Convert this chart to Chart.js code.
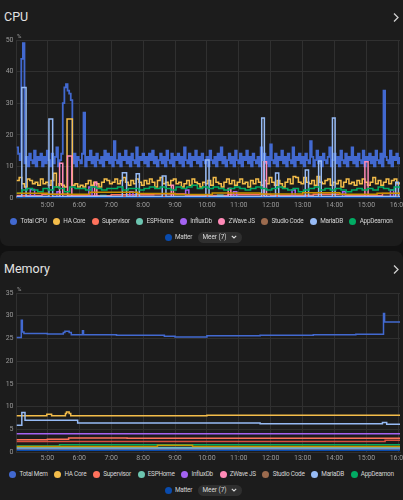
<!DOCTYPE html>
<html>
<head>
<meta charset="utf-8">
<script src="https://cdn.jsdelivr.net/npm/chart.js@4.4.1/dist/chart.umd.min.js"></script>
<style>
html, body { margin: 0; padding: 0; background: #111111; width: 403px; height: 500px; overflow: hidden; font-family: Roboto, sans-serif; }
.card { position: absolute; left: 0; width: 403px; background: #1c1c1c; border-radius: 8px; }
.title { position: absolute; left: 4px; color: #e3e3e3; font-size: 12.5px; line-height: 1; }
.chev { position: absolute; left: 390px; }
canvas { position: absolute; left: 0; }
.legend { position: absolute; left: 0; width: 403px; }
.legend .row { width: 100%; display: flex; justify-content: center; height: 16px; align-items: center; }
.item { display: flex; align-items: center; margin: 0 3.3px; color: #d4d4d4; font-size: 6.4px; letter-spacing: -0.25px; white-space: nowrap; }
.dot { width: 7px; height: 7px; border-radius: 50%; margin-right: 3.2px; }
.pill { display: flex; align-items: center; height: 11px; padding: 0 5px 0 4px; border-radius: 6px; background: #2f2f2f; color: #dcdcdc; font-size: 6.4px; margin-left: 3px; }
.pill svg { margin-left: 4px; }
</style>
</head>
<body>
<div class="card" style="top:-10px;height:256px"></div>
<div class="card" style="top:251px;height:260px"></div>
<div class="title" style="top:11px">CPU</div>
<div class="title" style="top:263px">Memory</div>
<svg class="chev" style="top:12px" width="10" height="11"><path d="M4 1.5 L8 5.5 L4 9.5" stroke="#cfcfcf" stroke-width="1.3" fill="none"/></svg>
<svg class="chev" style="top:264px" width="10" height="11"><path d="M4 1.5 L8 5.5 L4 9.5" stroke="#cfcfcf" stroke-width="1.3" fill="none"/></svg>
<canvas id="cpuChart" width="403" height="185" style="top:30px"></canvas>
<canvas id="memChart" width="403" height="182" style="top:283px"></canvas>
<div class="legend" id="cpuLegend" style="top:213px"></div>
<div class="legend" id="memLegend" style="top:466px"></div>
<script>
// ------ time range, minutes since midnight ------
var tStart = 242
var tEnd = 963
var hourTicks = [300, 360, 420, 480, 540, 600, 660, 720, 780, 840, 900, 960]

var colors = ['#4269d0', '#f4bd4a', '#ff725c', '#6cc5b0', '#a463f2', '#ff8ab7', '#9c6b4e', '#97bbf5', '#01ab63', '#094bad',
	'#c99000', '#d84f3e', '#49a28f', '#7599d1']

var cpuNames = ['Total CPU', 'HA Core', 'Supervisor', 'ESPHome', 'InfluxDb', 'ZWave JS', 'Studio Code', 'MariaDB', 'AppDeamon', 'Matter']
var memNames = ['Total Mem', 'HA Core', 'Supervisor', 'ESPHome', 'InfluxDb', 'ZWave JS', 'Studio Code', 'MariaDB', 'AppDeamon', 'Matter']
var moreLabel = 'Meer (7)'

// ------ CPU % ------
// Total CPU, every 3 minutes from 4:02
var cpuTotal = [
	16, 14, 12, 44, 49, 11, 13, 10, 14, 12, 11, 15, 10, 13, 12, 14, 10, 13, 11, 15,
	12, 10, 14, 11, 13, 16, 10, 12, 14, 30, 35, 36, 34, 33, 31, 11, 14, 10, 13, 12,
	11, 14, 27, 10, 13, 12, 15, 11, 13, 10, 14, 12, 11, 13, 10, 15, 12, 14, 11, 13,
	10, 18, 12, 11, 14, 10, 13, 12, 15, 11, 13, 10, 14, 12, 11, 16, 10, 13, 12, 14,
	11, 13, 10, 14, 12, 15, 11, 13, 10, 12, 14, 11, 13, 10, 15, 12, 11, 14, 10, 13,
	12, 14, 11, 13, 10, 16, 12, 11, 14, 10, 13, 12, 15, 11, 13, 10, 14, 12, 11, 13,
	10, 15, 12, 11, 13, 10, 14, 12, 16, 11, 13, 10, 12, 14, 11, 13, 10, 15, 12, 11,
	14, 10, 13, 12, 15, 11, 13, 10, 14, 12, 11, 13, 10, 16, 12, 14, 11, 13, 10, 17,
	12, 11, 14, 10, 13, 12, 15, 11, 13, 10, 14, 12, 11, 16, 10, 13, 12, 14, 11, 13,
	10, 14, 12, 11, 18, 13, 10, 12, 15, 11, 13, 10, 14, 12, 11, 13, 16, 10, 12, 14,
	11, 13, 10, 15, 12, 11, 14, 10, 13, 12, 16, 11, 13, 10, 14, 12, 11, 15, 10, 13,
	12, 14, 11, 13, 10, 15, 12, 11, 14, 10, 34, 13, 12, 11, 15, 10, 13, 12, 14, 11,
	13
]
// HA Core, every 5 minutes
var cpuCore = [
	5.5, 6.5, 4.5, 3.5, 6, 5.5, 4.5, 5, 4, 6, 4.5, 5,
	4, 5.5, 7.8, 3.5, 4.5, 4, 3.5, 25, 25, 4, 4.5, 3.5,
	4, 3.5, 4.5, 5.5, 4, 5, 4.5, 3.5, 5, 6, 5.5, 4.5,
	5, 6, 4.5, 5.5, 6.5, 5, 4, 5.5, 4.5, 6, 5, 4,
	5.5, 4.5, 6, 5, 3.5, 5.5, 6.5, 4.5, 5, 4, 5.5, 6,
	4.5, 5, 3.5, 4.5, 5.5, 4, 6, 5, 4.5, 3.5, 5, 4.5,
	5.5, 4, 6.5, 5, 4.5, 3.5, 5, 6, 4.5, 5.5, 4, 5,
	6, 4.5, 5, 3.5, 5.5, 4.5, 6, 5, 4, 5.5, 4.5, 6.5,
	5, 4, 5.5, 4.5, 3.5, 5, 6, 4.5, 6.8, 6.5, 5, 4.5,
	6.5, 5, 4.5, 5.5, 4, 6.8, 5, 4.5, 5.5, 6, 4, 5,
	4.5, 5.5, 3.5, 5, 6, 4.5, 5, 4, 5.5, 4.5, 6, 5,
	4, 5, 6.5, 4.5, 5.5, 4, 5, 6, 4.5, 5.5, 6, 4.5,
	5
]
// AppDeamon, every 10 minutes
var cpuApp = [
	1.5, 2.5, 3, 2.5, 2, 3,
	2.5, 3.5, 3, 2, 3.5, 3,
	3, 2.5, 3.5, 3, 2.5, 3,
	3, 3.5, 2.5, 3, 3, 2.5,
	3, 3.5, 3, 3.5, 3, 2.5,
	3.5, 3, 3.5, 4, 3, 3.5,
	3, 3.5, 3, 2.5, 3, 3.5,
	3, 2.5, 3, 3.5, 3, 2.5,
	3, 3.5, 3, 2.5, 3, 2,
	2.5, 3, 3.5, 2.5, 3, 2.5,
	3, 2.5, 2, 2.5, 3, 2.5,
	3, 2.5, 3.5, 3, 2.5, 3.5,
	3
]
// step series: change times (min) and values
var cpuMariaT = [242, 252, 260, 303, 310, 441, 449, 467, 473, 516, 523, 598, 604, 703, 708, 729, 735, 785, 791, 810, 815, 836, 841, 955, 960, 963]
var cpuMariaV = [0.5, 35, 0.5, 25, 0.5, 8, 0.5, 7.7, 0.5, 7, 0.5, 12, 0.5, 25.3, 0.5, 7.9, 0.5, 8.9, 0.5, 11.7, 0.5, 25.3, 0.5, 5, 0.5, 0.5]
var cpuZwaveT = [242, 323, 329, 338, 346, 389, 393, 533, 537, 640, 645, 707, 712, 897, 903, 963]
var cpuZwaveV = [0.5, 11, 0.5, 13.3, 0.5, 5, 0.5, 4, 0.5, 3, 0.5, 11.5, 0.5, 11.5, 0.5, 0.5]
var cpuInfluxT = [242, 268, 276, 318, 324, 378, 384, 455, 461, 560, 566, 650, 656, 760, 766, 855, 861, 945, 951, 963]
var cpuInfluxV = [0.3, 2.7, 0.3, 2, 0.3, 3.5, 0.3, 2, 0.3, 2.5, 0.3, 2, 0.3, 2.5, 0.3, 2, 0.3, 2.5, 0.3, 0.3]
var cpuSupT = [242, 290, 340, 420, 500, 560, 640, 720, 800, 860, 930, 963]
var cpuSupV = [0.8, 1.2, 0.7, 1, 1.3, 0.8, 1.1, 0.9, 1.2, 0.8, 1.4, 1]
var cpuEspT = [242, 400, 410, 620, 630, 963]
var cpuEspV = [0.3, 0.8, 0.3, 0.9, 0.3, 0.3]
var cpuStudioT = [242, 963]
var cpuStudioV = [0.2, 0.2]
var cpuMatterT = [242, 963]
var cpuMatterV = [0.1, 0.1]
var cpuExtraT = [242, 300, 380, 470, 540, 610, 700, 780, 850, 920, 963]
var cpuExtraV = [1.5, 1.2, 1.8, 1.4, 1.1, 1.6, 1.3, 1.7, 1.2, 1.5, 1.5]

// ------ Memory % ------
var memTotalT = [242, 251, 253, 256, 300, 330, 333, 341, 345, 366, 368, 430, 520, 540, 600, 700, 800, 880, 932, 934, 963]
var memTotalV = [25.2, 29, 26.4, 26.1, 26.0, 26.3, 26.6, 26.3, 25.8, 26.7, 25.8, 25.7, 25.5, 25.3, 25.6, 25.7, 25.8, 25.9, 30.5, 28.6, 28.6]
var memCoreT = [242, 299, 308, 334, 336, 341, 344, 600, 963]
var memCoreV = [8.0, 8.3, 8.0, 8.5, 8.8, 8.5, 8.0, 8.1, 8.2]
var memMariaT = [242, 252, 258, 357, 700, 930, 938, 963]
var memMariaV = [5.9, 8.7, 7.0, 6.4, 6.2, 6.5, 6.1, 6.1]
var memInfluxT = [242, 963]
var memInfluxV = [4.0, 4.0]
var memSupT = [242, 300, 340, 450, 963]
var memSupV = [2.7, 2.8, 3.1, 3.0, 3.1]
var memZwaveT = [242, 935, 963]
var memZwaveV = [2.3, 2.6, 2.6]
var memAppT = [242, 323, 963]
var memAppV = [1.3, 1.6, 1.6]
var memEspT = [242, 963]
var memEspV = [1.0, 1.0]
var memStudioT = [242, 963]
var memStudioV = [0.6, 0.6]
var memMatterT = [242, 963]
var memMatterV = [0.4, 0.4]
var memExtraT = [242, 507, 573, 963]
var memExtraV = [1.2, 1.5, 1.2, 1.2]
var memExtra2T = [242, 963]
var memExtra2V = [0.75, 0.75]

function grid(values, step) {
	return values.map(function (v, i) { return { x: tStart + step * i, y: v } })
}
function steps(times, values) {
	return times.map(function (t, i) { return { x: t, y: values[i] } })
}
function ds(label, data, color, idx, width) {
	return {
		label: label,
		data: data,
		borderColor: color,
		borderWidth: width || 1.5,
		pointRadius: 0,
		stepped: true,
		fill: false,
		order: -idx
	}
}

var gridColor = '#303030'
var tickColor = '#9a9a9a'

// draws the "%" unit above the y axis
var unitPlugin = {
	id: 'unit',
	afterDraw: function (chart) {
		var c = chart.ctx, a = chart.chartArea
		c.save()
		c.font = '6px Roboto'
		c.fillStyle = tickColor
		c.textBaseline = 'middle'
		c.fillText('%', a.left + 0.5, a.top - 4)
		c.restore()
	}
}

function makeOptions(yMax, yStep, xHeight, xPad) {
	return {
		responsive: false,
		animation: false,
		layout: { padding: { top: 10, right: 3, left: 0, bottom: 0 } },
		plugins: { legend: { display: false }, tooltip: { enabled: false } },
		scales: {
			x: {
				type: 'linear',
				min: tStart,
				max: tEnd,
				afterBuildTicks: function (s) { s.ticks = hourTicks.map(function (v) { return { value: v } }) },
				afterFit: function (s) { s.height = xHeight; s.paddingLeft = 0; s.paddingRight = 0 },
				ticks: {
					autoSkip: false, maxRotation: 0, padding: xPad, color: tickColor,
					font: { family: 'Roboto', size: 7 },
					callback: function (v) { return Math.floor(v / 60) + ':00' }
				},
				grid: { color: gridColor, drawTicks: false },
				border: { color: gridColor }
			},
			y: {
				min: 0,
				max: yMax,
				afterFit: function (s) { s.width = 16.5; s.paddingTop = 0; s.paddingBottom = 0 },
				ticks: { stepSize: yStep, padding: 3, color: tickColor, font: { family: 'Roboto', size: 7 } },
				grid: { color: gridColor, drawTicks: false },
				border: { color: gridColor }
			}
		}
	}
}

// ------ CPU chart ------
var cpuSets = [
	ds(cpuNames[0], grid(cpuTotal, 3), colors[0], 0, 1.8),
	ds(cpuNames[1], grid(cpuCore, 5), colors[1], 1),
	ds(cpuNames[2], steps(cpuSupT, cpuSupV), colors[2], 2),
	ds(cpuNames[3], steps(cpuEspT, cpuEspV), colors[3], 3),
	ds(cpuNames[4], steps(cpuInfluxT, cpuInfluxV), colors[4], 4),
	ds(cpuNames[5], steps(cpuZwaveT, cpuZwaveV), colors[5], 5),
	ds(cpuNames[6], steps(cpuStudioT, cpuStudioV), colors[6], 6),
	ds(cpuNames[7], steps(cpuMariaT, cpuMariaV), colors[7], 7),
	ds(cpuNames[8], grid(cpuApp, 10), colors[8], 8),
	ds(cpuNames[9], steps(cpuMatterT, cpuMatterV), colors[9], 9),
	ds('extra', steps(cpuExtraT, cpuExtraV), colors[10], 10)
]
new Chart(document.getElementById('cpuChart'), {
	type: 'line',
	data: { datasets: cpuSets },
	options: makeOptions(50, 10, 17, 3),
	plugins: [unitPlugin]
})

// ------ Memory chart ------
var memSets = [
	ds(memNames[0], steps(memTotalT, memTotalV), colors[0], 0),
	ds(memNames[1], steps(memCoreT, memCoreV), colors[1], 1),
	ds(memNames[2], steps(memSupT, memSupV), colors[2], 2),
	ds(memNames[3], steps(memEspT, memEspV), colors[3], 3),
	ds(memNames[4], steps(memInfluxT, memInfluxV), colors[4], 4),
	ds(memNames[5], steps(memZwaveT, memZwaveV), colors[11], 5),
	ds(memNames[6], steps(memStudioT, memStudioV), colors[6], 6),
	ds(memNames[7], steps(memMariaT, memMariaV), colors[7], 7),
	ds(memNames[8], steps(memAppT, memAppV), colors[8], 8),
	ds(memNames[9], steps(memMatterT, memMatterV), colors[9], 9),
	ds('extra', steps(memExtraT, memExtraV), colors[10], 10),
	ds('extra2', steps(memExtra2T, memExtra2V), colors[13], 11)
]
new Chart(document.getElementById('memChart'), {
	type: 'line',
	data: { datasets: memSets },
	options: makeOptions(35, 5, 13, 2),
	plugins: [unitPlugin]
})

// ------ legends ------
function buildLegend(el, names) {
	var row1 = document.createElement('div'), row2 = document.createElement('div')
	row1.className = 'row'; row2.className = 'row'
	names.forEach(function (n, i) {
		var it = document.createElement('div')
		it.className = 'item'
		it.innerHTML = '<span class="dot" style="background:' + colors[i] + '"></span>' + n
		;(i < 9 ? row1 : row2).appendChild(it)
	})
	var pill = document.createElement('div')
	pill.className = 'pill'
	pill.innerHTML = moreLabel + '<svg width="6" height="4"><path d="M0.8 0.8 L3 3 L5.2 0.8" stroke="#dcdcdc" stroke-width="1.1" fill="none"/></svg>'
	row2.appendChild(pill)
	el.appendChild(row1); el.appendChild(row2)
}
buildLegend(document.getElementById('cpuLegend'), cpuNames)
buildLegend(document.getElementById('memLegend'), memNames)
</script>
</body>
</html>
